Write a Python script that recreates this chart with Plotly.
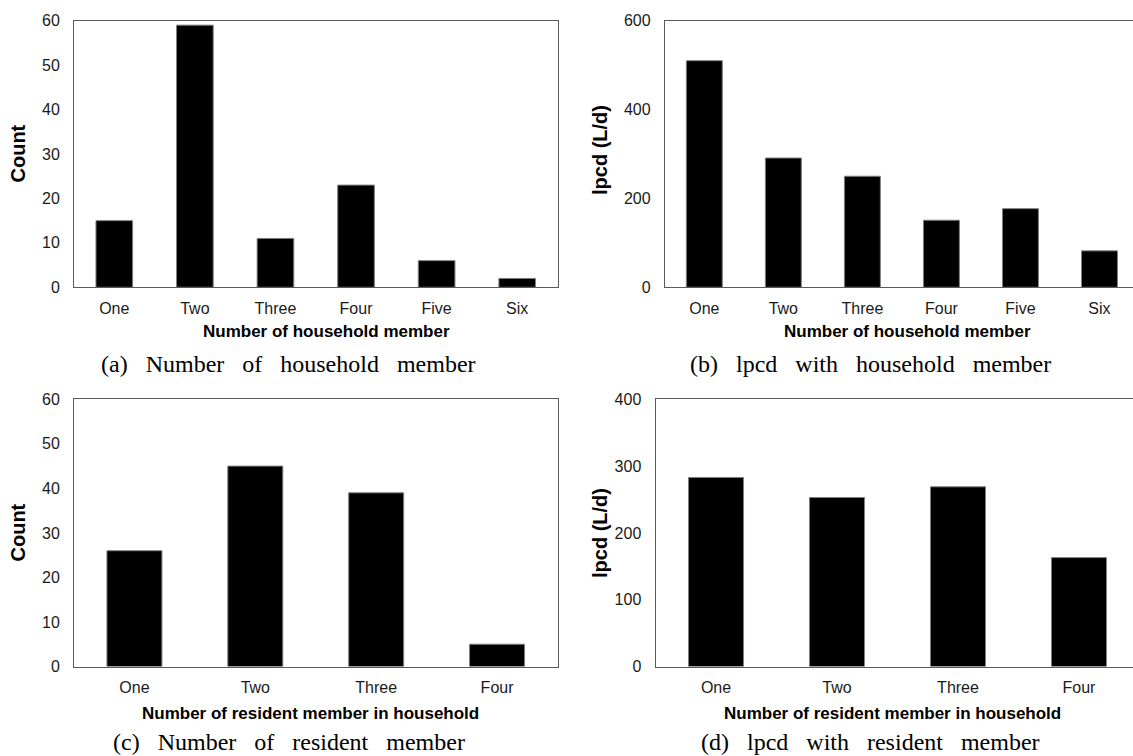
import plotly.graph_objects as go

# ---- data ----
household_cats = ["One", "Two", "Three", "Four", "Five", "Six"]
household_count = [15, 59, 11, 23, 6, 2]
household_lpcd = [510, 291, 250, 151, 177, 82]

resident_cats = ["One", "Two", "Three", "Four"]
resident_count = [26, 45, 39, 5]
resident_lpcd = [283, 253, 269, 163]

count_ticks = [0, 10, 20, 30, 40, 50, 60]
lpcd_ticks_b = [0, 200, 400, 600]
lpcd_ticks_d = [0, 100, 200, 300, 400]

W, H = 1133, 756

def px(x):
    return x / W

def py(y):
    return 1 - y / H

TICK_FONT = dict(family="Liberation Sans, Arial, sans-serif", size=16, color="#1a1a1a")
TITLE_FONT = dict(family="Liberation Sans, Arial, sans-serif", size=17, color="#000000")
YTITLE_FONT = dict(family="Liberation Sans, Arial, sans-serif", size=20, color="#000000")
CAP_FONT = dict(family="Liberation Serif, Times New Roman, serif", size=24, color="#000000")
LINE = "#5a5a5a"

fig = go.Figure()

panels = [
    # (cats, values, ticks, x-left, x-right, y-top, y-bottom)
    (household_cats, household_count, count_ticks, 74, 557.5, 20.7, 287.3),
    (household_cats, household_lpcd, lpcd_ticks_b, 664.8, 1139, 20.7, 287.3),
    (resident_cats, resident_count, count_ticks, 74, 557.5, 399.3, 666.5),
    (resident_cats, resident_lpcd, lpcd_ticks_d, 655.5, 1139.5, 399.3, 666.5),
]

for i, (cats, vals, ticks, xl, xr, yt, yb) in enumerate(panels, start=1):
    n = len(cats)
    xr_clip = min(xr, W)
    step = (xr - xl) / n
    hi = n - 0.5 - (xr - xr_clip) / step
    fig.add_trace(go.Bar(
        x=cats, y=vals, xaxis=f"x{i}", yaxis=f"y{i}",
        marker=dict(color="#000000", line=dict(color="#808080", width=1)),
        showlegend=False, hoverinfo="x+y",
    ))
    xa = dict(
        domain=[px(xl), px(xr_clip)], anchor=f"y{i}",
        type="category", categoryorder="array", categoryarray=cats,
        range=[-0.5, hi], automargin=False,
        showline=True, linecolor=LINE, linewidth=1, mirror=True,
        showgrid=False, zeroline=False,
        ticks="outside", ticklen=6, tickcolor="rgba(0,0,0,0)",
        tickfont=TICK_FONT,
    )
    ya = dict(
        domain=[py(yb), py(yt)], anchor=f"x{i}",
        range=[0, ticks[-1]], tickvals=ticks, automargin=False,
        showline=True, linecolor=LINE, linewidth=1, mirror=True,
        showgrid=False, zeroline=False,
        ticks="outside", ticklen=10, tickcolor="rgba(0,0,0,0)",
        tickfont=TICK_FONT,
    )
    fig.update_layout({f"xaxis{i}" if i > 1 else "xaxis": xa,
                       f"yaxis{i}" if i > 1 else "yaxis": ya})

annotations = []

def ann(text, x, y, font, angle=0):
    annotations.append(dict(
        text=text, x=px(x), y=py(y), xref="paper", yref="paper",
        xanchor="center", yanchor="middle", showarrow=False,
        font=font, textangle=angle,
    ))

sp = "\u2002 "
# x-axis titles
ann("<b>Number of household member</b>", 326, 332, TITLE_FONT)
ann("<b>Number of household member</b>", 907.5, 332, TITLE_FONT)
ann("<b>Number of resident member in household</b>", 310, 713, TITLE_FONT)
ann("<b>Number of resident member in household</b>", 892, 713, TITLE_FONT)
# y-axis titles
ann("<b>Count</b>", 17.5, 154, YTITLE_FONT, -90)
ann("<b>lpcd (L/d)</b>", 600, 150, YTITLE_FONT, -90)
ann("<b>Count</b>", 17.5, 533, YTITLE_FONT, -90)
ann("<b>lpcd (L/d)</b>", 600, 533, YTITLE_FONT, -90)
# captions
ann(sp.join(["(a)", "Number", "of", "household", "member"]), 288.5, 364, CAP_FONT)
ann(sp.join(["(b)", "lpcd", "with", "household", "member"]), 870, 364, CAP_FONT)
ann(sp.join(["(c)", "Number", "of", "resident", "member"]), 289, 742, CAP_FONT)
ann(sp.join(["(d)", "lpcd", "with", "resident", "member"]), 870, 742, CAP_FONT)

fig.update_layout(
    width=W, height=H,
    margin=dict(l=0, r=0, t=0, b=0),
    paper_bgcolor="white", plot_bgcolor="white",
    bargap=0.545,
    annotations=annotations,
)

fig.write_html(
    "out.html",
    config={"displayModeBar": False},
    post_script="document.body.style.margin='0';document.body.style.overflow='hidden';",
)
